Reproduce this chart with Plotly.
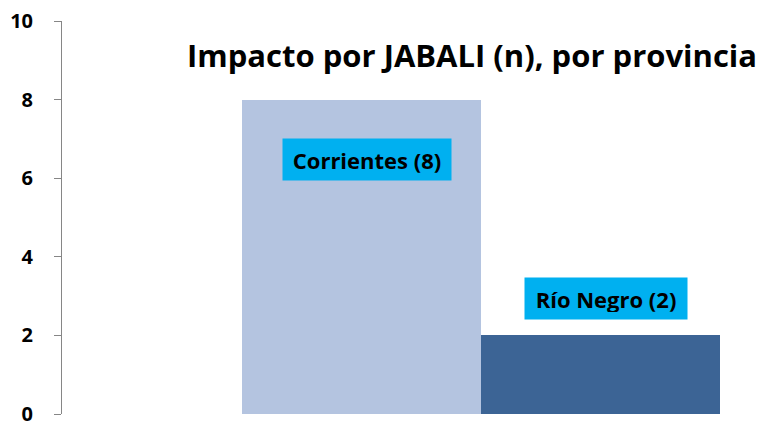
import plotly.graph_objects as go

categories = ["Corrientes", "Río Negro"]
values = [8, 2]
bar_colors = ["#B4C4E0", "#3C6495"]
labels = ["Corrientes (8)", "Río Negro (2)"]
title = "Impacto por JABALI (n), por provincia"
y_ticks = [0, 2, 4, 6, 8, 10]

FONT = "Open Sans"

fig = go.Figure()
fig.add_trace(go.Bar(
    x=categories, y=values,
    marker=dict(color=bar_colors, line=dict(width=0)),
    width=1.0, showlegend=False, hoverinfo="skip",
))

label_offsets = [-1.52, 0.95]
label_widths = [154, 148]
for cat, v, lab, off, w in zip(categories, values, labels, label_offsets, label_widths):
    fig.add_annotation(
        x=cat, y=v + off, xref="x", yref="y",
        text=f"<b>{lab}</b>", showarrow=False,
        font=dict(family=FONT, size=22, color="black"),
        bgcolor="#00B0F0", borderpad=7, width=w, height=27,
        xshift=6,
    )

fig.add_annotation(
    xref="paper", yref="paper",
    x=(472 - 62) / 658, y=1 - (55 - 21) / 393,
    xanchor="center", yanchor="middle",
    text=f"<b>{title}</b>", showarrow=False,
    font=dict(family=FONT, size=31, color="black"),
)

fig.update_layout(
    width=767, height=423,
    margin=dict(l=62, r=47, t=21, b=9),
    paper_bgcolor="white", plot_bgcolor="white",
    bargap=0,
    xaxis=dict(visible=False, range=[-1.253, 1.5], type="category"),
    yaxis=dict(
        range=[0, 10], tickvals=y_ticks, ticktext=[f"<b>{t}</b>" for t in y_ticks],
        showgrid=False, zeroline=False, automargin=False,
        showline=True, linecolor="#868686", linewidth=1,
        ticks="outside", ticklen=7, tickcolor="#868686",
        tickfont=dict(family=FONT, size=20, color="black"),
        ticklabelstandoff=17, ticklabeloverflow="allow",
    ),
)

fig.write_html(
    "out.html",
    config={"displayModeBar": False},
    post_script="document.body.style.margin='0';document.body.style.overflow='hidden';",
)
